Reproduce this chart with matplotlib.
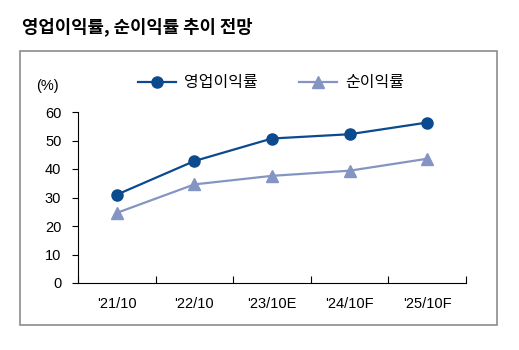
import matplotlib.pyplot as plt
from matplotlib.patches import Rectangle

categories = ["'21/10", "'22/10", "'23/10E", "'24/10F", "'25/10F"]
op_margin = [31.0, 42.8, 50.7, 52.2, 56.3]
net_margin = [24.6, 34.6, 37.6, 39.4, 43.6]
yticks = [0, 10, 20, 30, 40, 50, 60]

DARK = "#0B4A8E"
LIGHT = "#8495C4"
KR = ["Noto Sans CJK KR", "DejaVu Sans"]
NUM = ["Liberation Sans Narrow", "Liberation Sans", "DejaVu Sans"]

fig = plt.figure(figsize=(5.19, 3.5), dpi=100)
W, H = 519, 350

# outer frame
fig.patches.append(Rectangle((20 / W, 1 - 325 / H), 477 / W, 274 / H,
                             transform=fig.transFigure, fill=False,
                             edgecolor="#8c8c8c", linewidth=1.2))

fig.text(22 / W, 1 - 27 / H, "영업이익률, 순이익률 추이 전망", family=KR,
         fontsize=12.8, fontweight="bold", va="center", ha="left")

ax = fig.add_axes([78 / W, 1 - 283 / H, 388 / W, 171 / H])
x = list(range(len(categories)))
ax.plot(x, op_margin, color=DARK, marker="o", markersize=8, linewidth=1.6,
        label="영업이익률")
ax.plot(x, net_margin, color=LIGHT, marker="^", markersize=8, linewidth=1.6,
        label="순이익률")

ax.set_xlim(-0.5, len(categories) - 0.5)
ax.set_ylim(0, 60)
ax.set_yticks(yticks)
ax.set_yticklabels([str(v) for v in yticks], family=NUM, fontsize=10.5)
ax.set_xticks([i - 0.5 for i in range(len(categories) + 1)])
ax.set_xticklabels([])
ax.set_xticks(x, minor=True)
ax.set_xticklabels(categories, minor=True, family=NUM, fontsize=10.5)
ax.tick_params(axis="x", which="major", direction="in", length=5, width=0.8)
ax.tick_params(axis="x", which="minor", length=0, pad=10)
ax.tick_params(axis="y", direction="out", length=4, width=0.8, pad=8)
for s in ["top", "right"]:
    ax.spines[s].set_visible(False)
for s in ["left", "bottom"]:
    ax.spines[s].set_linewidth(0.8)

fig.text(47 / W, 1 - 86 / H, "(%)", family=NUM, fontsize=10.5,
         ha="center", va="center")

leg = ax.legend(loc="center", bbox_to_anchor=(0.5 - 1 / 388, 1 + 29 / 171),
                ncol=2, frameon=False, prop={"family": KR, "size": 11.5},
                handlelength=2.4, columnspacing=2.6, handletextpad=0.5)

fig.savefig("out.png", dpi=100)
